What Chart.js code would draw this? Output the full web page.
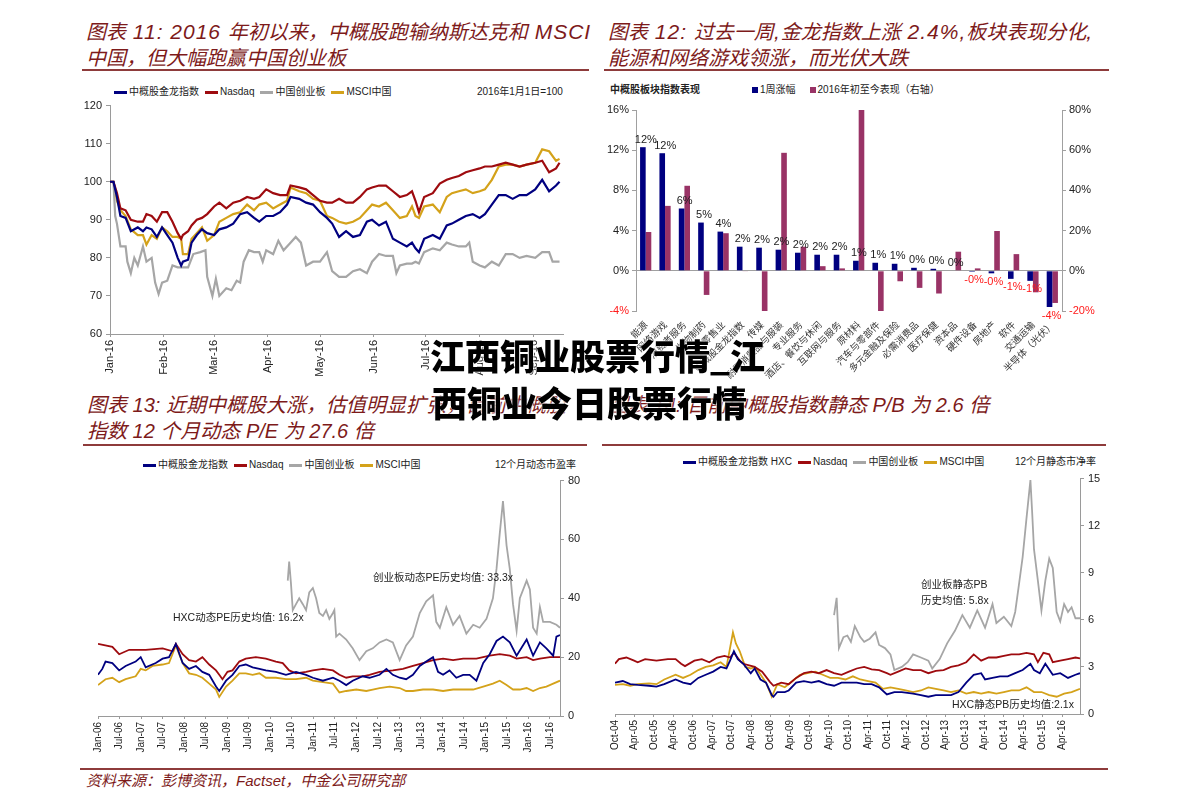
<!DOCTYPE html>
<html><head><meta charset="utf-8">
<script src="https://cdn.jsdelivr.net/npm/chart.js@4.4.1/dist/chart.umd.min.js"></script>
<style>
html,body{margin:0;padding:0;background:#fff;}
body{width:1191px;height:810px;position:relative;overflow:hidden;font-family:"Liberation Sans","Noto Sans CJK SC",sans-serif;}
.hd{position:absolute;font-style:italic;color:#7d1a1a;font-size:20px;line-height:26px;white-space:nowrap;}
.hd .lt{font-size:21px;letter-spacing:1px;}
.rule{position:absolute;height:2px;background:#8e3b3b;}
.lg{position:absolute;font-size:10px;line-height:12px;color:#222;white-space:nowrap;display:flex;align-items:center;}
.lg .l{display:inline-block;width:13px;height:3px;margin-right:2px;}
.lg .t{margin-right:6px;}
.lg .sq{display:inline-block;width:6px;height:6px;margin-right:2px;}
.note{position:absolute;font-size:10.5px;line-height:13px;color:#222;white-space:nowrap;}
canvas{position:absolute;}
.ov{position:absolute;font-family:"Noto Sans CJK SC",sans-serif;font-weight:900;font-size:35px;line-height:44px;color:#000;white-space:nowrap;text-shadow:0 0 2px #fff,0 0 2px #fff;z-index:10;}
</style></head>
<body>
<div class="hd" style="left:86px;top:19px">图表<span class="lt"> 11: 2016 </span>年初以来，中概股跑输纳斯达克和<span class="lt"> MSCI</span><br>中国，但大幅跑赢中国创业板</div>
<div class="rule" style="left:82px;top:69px;width:507px"></div>
<div class="hd" style="left:608px;top:19px">图表<span class="lt"> 12: </span>过去一周<span class="lt">,</span>金龙指数上涨<span class="lt"> 2.4%,</span>板块表现分化<span class="lt">,</span><br>能源和网络游戏领涨，而光伏大跌</div>
<div class="rule" style="left:604px;top:69px;width:505px"></div>
<div class="hd" style="left:87px;top:392px">图表 13: 近期中概股大涨，估值明显扩张，目前中概股<br>指数 12 个月动态 P/E 为 27.6 倍</div>
<div class="hd" style="left:608px;top:392px">图表 14: 目前中概股指数静态 P/B 为 2.6 倍</div>
<div class="rule" style="left:83px;top:444px;width:504px"></div>
<div class="rule" style="left:602px;top:444px;width:504px"></div>
<div class="rule" style="left:80px;top:768px;width:1028px"></div>
<div class="hd" style="left:86px;top:771px;font-size:15px;line-height:20px">资料来源：彭博资讯，Factset，中金公司研究部</div>

<div class="lg" style="left:114px;top:86px"><span class="l" style="background:#000080"></span><span class="t">中概股金龙指数</span><span class="l" style="background:#9e0b0f"></span><span class="t">Nasdaq</span><span class="l" style="background:#a6a6a6"></span><span class="t">中国创业板</span><span class="l" style="background:#d4a21a"></span><span class="t">MSCI中国</span></div>
<div class="lg" style="left:477px;top:86px">2016年1月1日=100</div>

<div class="lg" style="left:610px;top:84px;font-weight:bold">中概股板块指数表现</div>
<div class="lg" style="left:752px;top:84px"><span class="sq" style="background:#000080"></span><span class="t" style="margin-right:14px">1周涨幅</span><span class="sq" style="background:#993366"></span><span class="t">2016年初至今表现（右轴）</span></div>

<div class="lg" style="left:143px;top:459px"><span class="l" style="background:#000080"></span><span class="t">中概股金龙指数</span><span class="l" style="background:#9e0b0f"></span><span class="t">Nasdaq</span><span class="l" style="background:#a6a6a6"></span><span class="t">中国创业板</span><span class="l" style="background:#d4a21a"></span><span class="t">MSCI中国</span></div>
<div class="lg" style="left:495px;top:459px">12个月动态市盈率</div>

<div class="lg" style="left:683px;top:456px"><span class="l" style="background:#000080"></span><span class="t">中概股金龙指数 HXC</span><span class="l" style="background:#9e0b0f"></span><span class="t">Nasdaq</span><span class="l" style="background:#a6a6a6"></span><span class="t">中国创业板</span><span class="l" style="background:#d4a21a"></span><span class="t">MSCI中国</span></div>
<div class="lg" style="left:1015px;top:456px">12个月静态市净率</div>

<canvas id="c1" width="510" height="300" style="left:60px;top:95px;width:510px;height:300px"></canvas>
<canvas id="c2" width="500" height="290" style="left:600px;top:100px;width:500px;height:290px"></canvas>
<canvas id="c3" width="510" height="300" style="left:80px;top:470px;width:510px;height:300px"></canvas>
<canvas id="c4" width="510" height="302" style="left:600px;top:468px;width:510px;height:302px"></canvas>

<div class="note" style="left:373px;top:571px">创业板动态PE历史均值: 33.3x</div>
<div class="note" style="left:173px;top:611px">HXC动态PE历史均值: 16.2x</div>
<div class="note" style="left:921px;top:578px">创业板静态PB</div>
<div class="note" style="left:921px;top:594px">历史均值: 5.8x</div>
<div class="note" style="left:952px;top:698px">HXC静态PB历史均值:2.1x</div>

<div class="ov" style="left:430px;top:333px">江西铜业股票行情_江</div>
<div class="ov" style="left:432px;top:380px">西铜业今日股票行情</div>

<script>
// ---------- Chart 11 data (days since 2016-01-01, index 2016-01-01 = 100) ----------
const monthTicks1 = [0,31,60,91,121,152,182,213,244];
const monthLabels1 = ['Jan-16','Feb-16','Mar-16','Apr-16','May-16','Jun-16','Jul-16','Aug-16','Sep-16'];
const days1 = [0,2,4,6,9,12,16,19,21,24,27,30,33,36,39,41,42,45,47,50,53,56,60,63,67,71,75,79,83,86,90,94,98,102,104,109,113,117,121,125,128,132,136,140,144,148,151,155,159,163,167,171,174,176,178,181,186,190,194,197,201,205,209,213,216,220,224,228,232,236,240,245,249,253,257,259];
const hxc1 = [100,100,96,91,90.5,87,88,87,88,87.5,85.5,88,86,84,80,78,79,79.5,84,86,87.5,86.5,86,87.5,88,89,91.5,92,90.5,89.5,91,91,92,94,96,95.5,94.5,94,92,90.5,89,85.5,87,85.5,86,89.5,90,88.5,89.5,85,84,83,84,82.5,81.5,85,86,85,88.5,89,90,91,91.5,90.5,91.5,94,96.5,96.5,95.5,96.5,96.5,98,100.5,97.5,99,100];
const nasdaq1 = [100,100,97,93,92.5,90,89.5,89.5,91.5,91,89.5,92,92,89.5,86.5,85,86,87,88.5,90,90.5,91.5,93.5,94.5,93,94.5,95,96,95.5,96,98,97,96.5,96.5,99,98.5,98,96.5,95,94.5,94.5,95.5,94.5,94.5,96,98,98.5,99,99,97.5,96,96.5,97.5,95,92,96,97,99.5,100.5,101,101.5,102.5,103,103.5,104,104,104.5,105,104.5,104,104.5,105,105.5,102.5,103.5,105];
const msci1 = [100,100,95,92.5,91,87.5,86,86,83.5,86,85,88,87,85.5,85.5,85,81,81,85,86.5,88,84.5,86,89.5,90.5,91.5,92,94,92.5,94,94.5,93,94,95,98.5,97.5,97,95.5,95,91,90.5,89.5,89,89.5,90.5,92.5,94,93.5,94.5,92.5,90.5,91,93.5,91,90.5,93.5,94,92,96,97,97.5,98,97,97.5,98,100.5,104,104.5,104.5,104,104.5,105,108.5,108,105.5,106];
const chinextDays1 = [0,2,3,4,6,9,10,12,14,16,19,21,24,26,28,30,33,36,39,45,48,52,55,56,59,61,63,67,70,73,75,77,80,83,86,88,90,94,97,100,104,107,110,113,117,121,125,128,132,136,140,144,148,151,155,159,163,165,167,171,174,176,178,181,186,190,194,197,201,205,207,209,213,216,220,224,228,232,236,240,245,249,253,255,259];
const chinext1 = [100,100,91,89,83,83,79,76,80,78,83,79,80,73.5,70.5,73.5,74,78,77.5,77.5,81,81.5,82,75,70,74.5,70,72,71.5,74,73.5,79,82,81.5,81.5,79,82,81,84.5,82,84,85.5,84,78,79,79,81.5,76.5,75,75,76.5,77,76,79,81,80.5,80.5,76,78,78.5,78.5,79,78.5,81.5,82.5,82,84,83.5,83,83,84,79,78,77.5,79,78,81,81,80,80.5,80,81.5,81.5,79,79];

// ---------- Chart 12 data ----------
const sectors2 = ['能源','网络游戏','消费者服务','生物制药','零售业','中概股金龙指数','传媒','耐用消费品与服装','专业服务','酒店、餐饮与休闲','互联网与服务','原材料','汽车与零部件','多元金融及保险','必需消费品','医疗保健','资本品','硬件设备','房地产','软件','交通运输','半导体（光伏）'];
const week2 = [12.3,11.7,6.2,4.8,3.9,2.4,2.3,2.1,1.8,1.6,1.6,1.0,0.8,0.7,0.3,0.2,0.05,-0.1,-0.25,-0.8,-1.0,-3.6];
const ytd2 = [19.3,32.3,42.3,-12,18.7,-0.3,-22,58.7,12,2.3,1.2,81,-21,-5.2,-8.5,-11.3,9.5,1.2,19.8,8.3,-10.7,-16];

// ---------- Chart 13 data (months since Jan-2006, 12m forward P/E) ----------
const tickLabels3 = ['Jan-06','Jul-06','Jan-07','Jul-07','Jan-08','Jul-08','Jan-09','Jul-09','Jan-10','Jul-10','Jan-11','Jul-11','Jan-12','Jul-12','Jan-13','Jul-13','Jan-14','Jul-14','Jan-15','Jul-15','Jan-16','Jul-16'];
const hxcPE = [[0,14],[1.2,16],[2.1,18.5],[4,18],[5.9,15.5],[7.7,17],[10.5,18.5],[11.9,20],[13.3,16.5],[16.1,18],[18,19.5],[19.8,20],[21.7,24.5],[23.6,18],[25.4,16],[27.3,17],[29.1,15],[31,14],[32.9,10],[33.8,8.5],[35.7,12],[37.5,14],[39.4,17],[41.2,17.5],[43.1,16.5],[45,16],[46.8,15.5],[49.6,15],[52.4,14],[55.2,15],[58,14],[59.9,13],[62.7,12],[65.5,13],[67.3,12],[69.2,10.5],[71,12],[73.8,13.5],[75.7,13],[78.5,14],[80.4,16],[82.2,14],[84.1,13],[85.9,12.5],[87.8,14],[89.7,17],[91.5,18.5],[93.4,20],[94.8,15],[96.2,14],[98,15.5],[99.9,13],[101.8,14],[103.6,14],[105.5,12],[107.4,18],[109.2,21],[111.1,25.5],[112.9,27],[114.8,25],[116.7,20.5],[119.5,26],[121.3,20.5],[123.2,25],[125,23],[126.9,20.5],[127.8,27],[128.8,27.5]];
const nasdaqPE = [[0,24.5],[4,23.5],[5.9,21],[8.7,22.5],[13.3,22.5],[18,23],[20.8,22],[21.7,24.5],[23.6,21],[25.4,19],[27.3,18.5],[29.1,20],[31,17.5],[32.9,15.5],[33.8,14],[34.7,12.5],[36.1,15],[37.5,15.5],[39.4,18.5],[41.2,19.5],[44,20],[46.8,19.5],[49.6,18.5],[51.5,18],[53.3,15.5],[55.2,14.5],[58,15],[59.9,15.5],[62.7,16],[65.5,15.5],[67.3,14],[69.2,13],[71,13.5],[73.8,13.5],[75.7,14],[78.5,15],[82.2,15.5],[85,16],[87.8,17],[90.6,18],[93.4,19],[96.2,19.5],[99,19],[101.8,19.5],[105.5,19.5],[109.2,20.5],[112,21],[114.8,20.5],[116.7,19.5],[119.5,20],[121.3,19],[123.2,19.5],[126,20],[128.8,20]];
const chinextPE = [[52.9,46],[53.3,52.5],[53.8,45],[54.3,36],[55.2,38],[56.1,40],[57.1,38],[58,36],[58.9,42],[59.9,43.5],[60.8,40],[61.7,35],[62.7,34],[63.6,36],[64.5,33],[65.5,35],[65.9,36],[66.4,27],[67.3,28],[69.2,26],[71,23],[72.9,19],[74.8,22],[76.6,23],[78.5,25],[80.4,26],[82.2,25],[84.1,19],[85.9,24],[87.8,27],[89.7,35],[91.5,39],[93.4,41],[94.3,32],[95.3,30],[97.1,37],[99,31],[100.8,34],[102.7,28],[104.6,31],[106.4,30],[108.3,33],[110.1,40],[111.1,50],[112,62],[112.9,73],[113.9,58],[114.8,50],[115.7,38],[116.7,29],[117.6,40],[119.5,46],[120.4,43],[121.3,30],[122.3,28],[123.2,37],[124.1,32],[126,32],[127.8,31],[128.8,30]];
const msciPE = [[0,10.5],[2.1,12.5],[4,13],[5.9,11.5],[7.7,12.5],[10.5,13.5],[11.9,16],[13.3,15.5],[15.2,17],[18,17.5],[19.8,18],[21.7,24],[23.6,18],[25.4,14.5],[27.3,14],[29.1,13],[31,11],[32.9,9],[33.8,6.5],[35.7,10],[37.5,12],[39.4,14.5],[41.2,14.5],[43.1,14],[45,14.5],[46.8,13],[49.6,13],[52.4,12.5],[55.2,12.5],[58,13],[59.9,12],[62.7,11.5],[65.5,11],[67.3,8],[69.2,8.5],[72,9],[74.8,8.5],[76.6,9],[78.5,9.5],[81.3,10],[84.1,9.5],[85.9,8.5],[87.8,8.5],[90.6,9],[93.4,9],[96.2,8.5],[99,9],[101.8,9],[104.6,9],[107.4,10],[110.1,11],[112,12],[113.9,10.5],[115.7,9],[117.6,9],[119.5,9.5],[121.3,8.5],[123.2,9.5],[125,10],[126.9,11],[128.8,12]];

// ---------- Chart 14 data (months since Oct-2004, trailing P/B) ----------
const tickLabels4 = ['Oct-04','Apr-05','Oct-05','Apr-06','Oct-06','Apr-07','Oct-07','Apr-08','Oct-08','Apr-09','Oct-09','Apr-10','Oct-10','Apr-11','Oct-11','Apr-12','Oct-12','Apr-13','Oct-13','Apr-14','Oct-14','Apr-15','Oct-15','Apr-16'];
const hxcPB = [[0,2.0],[2.4,2.1],[4.7,1.9],[7,1.85],[10.5,1.8],[12.8,1.75],[15.2,1.9],[18.7,2.2],[21,2.0],[23.3,1.9],[25.7,2.3],[28,2.5],[30.3,2.7],[32.6,3.0],[34.4,2.9],[35.5,3.4],[36.7,4.0],[37.9,3.5],[39.6,3.2],[41.9,2.6],[43.1,2.9],[44.9,2.2],[46.6,2.0],[48.4,1.2],[48.9,1.1],[50.1,1.4],[52.4,1.4],[53.6,1.5],[55.9,2.0],[58.3,2.1],[60.6,2.0],[62.9,2.1],[65.3,1.9],[67.6,1.8],[69.9,2.0],[72.2,2.0],[74.6,2.0],[76.9,1.9],[79.2,1.9],[81.5,1.7],[83.9,1.25],[86.2,1.4],[88.5,1.4],[92,1.3],[94.4,1.2],[96.7,1.1],[99,1.2],[101.4,1.2],[103.7,1.2],[106,1.4],[108.4,2.0],[110.7,2.5],[113,2.6],[114.2,2.2],[116.5,2.3],[118.8,2.4],[121.2,2.4],[123.5,2.6],[125.8,2.8],[128.2,3.2],[129.3,2.8],[131.1,2.6],[132.8,3.2],[135.1,2.5],[137.4,2.6],[139.8,2.3],[142.1,2.5],[143.5,2.6]];
const nasdaqPB = [[0,3.2],[1.2,3.5],[3.5,3.6],[5.9,3.4],[7,3.3],[9.3,3.5],[12.8,3.4],[16.3,3.5],[18.7,3.5],[20.4,3.2],[21.6,3.05],[24.5,3.4],[26.8,3.5],[29.1,3.3],[31.5,3.6],[33.8,3.7],[35.5,3.6],[36.7,3.9],[38.5,3.4],[39.6,3.2],[41.4,3.1],[43.1,3.0],[45.4,2.7],[47.8,2.05],[48.9,1.8],[51.3,2.0],[53.6,1.9],[55.9,2.3],[58.3,2.6],[60.6,2.7],[62.9,2.6],[65.3,2.8],[67.6,2.6],[69.9,2.5],[72.2,2.7],[74.6,2.9],[76.9,3.0],[79.2,2.85],[81.5,2.8],[83.9,2.6],[85,2.5],[87.4,2.7],[89.7,2.9],[92,2.8],[94.4,2.8],[96.7,2.6],[99,2.75],[101.4,2.8],[103.7,3.0],[106,3.1],[108.4,3.3],[110.7,3.8],[113,3.4],[115.3,3.6],[117.7,3.6],[120,3.7],[122.3,3.8],[124.7,3.8],[127,3.9],[129.3,3.8],[130.5,3.3],[132.2,3.9],[134,3.8],[135.1,3.3],[137.4,3.4],[139.8,3.5],[142.1,3.6],[143.5,3.55]];
const chinextPB = [[67.6,6.3],[68.4,7.4],[69.1,4.2],[70.5,4.9],[71.7,5.0],[72.8,4.6],[74,5.6],[75.7,4.9],[76.9,4.6],[78.6,4.8],[80.4,5.2],[81.5,4.4],[83.3,4.2],[85,3.8],[86.2,2.8],[88.5,3.0],[90.3,3.3],[92,3.8],[94.4,3.6],[96.7,3.4],[97.9,2.9],[100.2,3.5],[102.5,4.5],[104.9,5.3],[107.2,6.3],[109.5,5.5],[111.8,6.6],[114.2,5.5],[116.5,7.0],[117.7,5.8],[120,6.2],[122.3,5.6],[123.5,6.5],[124.7,8.3],[125.8,10],[127,12.5],[128.2,14.9],[128.7,13],[129.3,10.5],[130.5,8.5],[131.6,6.6],[132.8,8.5],[134,9.9],[135.1,9.3],[136.3,6.5],[137.4,5.9],[138.6,7.0],[139.8,6.5],[140.9,6.8],[142.1,6.1],[143.5,6.1]];
const msciPB = [[0,1.85],[2.4,1.9],[4.7,1.8],[7,1.9],[10.5,1.95],[12.8,1.9],[15.2,2.2],[18.7,2.5],[21,2.3],[23.3,2.5],[25.7,2.8],[28,3.0],[30.3,3.1],[32.6,3.3],[34.4,3.0],[35.5,4.2],[36.4,5.2],[37.3,4.5],[38.5,4.0],[40.2,3.0],[41.9,2.9],[43.1,3.0],[44.3,2.7],[46.6,2.0],[48.4,1.1],[50.1,1.9],[52.4,1.7],[54.8,2.1],[57.1,2.5],[59.4,2.6],[61.8,2.7],[64.1,2.5],[66.4,2.3],[68.8,2.3],[71.1,2.2],[73.4,2.4],[75.7,2.2],[78.1,2.1],[80.4,2.0],[82.7,1.6],[85,1.7],[87.4,1.6],[89.7,1.5],[92,1.4],[94.4,1.5],[96.7,1.7],[99,1.6],[101.4,1.5],[103.7,1.4],[106,1.5],[108.4,1.3],[110.7,1.4],[113,1.3],[115.3,1.4],[117.7,1.3],[120,1.4],[122.3,1.5],[124.7,1.5],[127,1.7],[129.3,1.4],[131.6,1.4],[134,1.2],[136.3,1.1],[138.6,1.3],[140.9,1.4],[143.5,1.6]];

// ---------- styles ----------
const NAVY='#000080', RED='#9e0b0f', GRAY='#a6a6a6', GOLD='#d4a21a', PURPLE='#993366', AX='#9a9a9a';
Chart.defaults.font.family = '"Liberation Sans","Noto Sans CJK SC",sans-serif';
Chart.defaults.color = '#222';

function xyDS(label, xs, ys, color, w){
  return {label, data: xs.map((x,i)=>({x, y: ys[i]})), borderColor: color, backgroundColor: color, borderWidth: w, pointRadius: 0, fill: false, tension: 0};
}
function pairDS(label, pairs, color, w){
  return {label, data: pairs.map(p=>({x:p[0], y:p[1]})), borderColor: color, backgroundColor: color, borderWidth: w, pointRadius: 0, fill: false, tension: 0};
}
function lineOptions(o){
  return {
    responsive:false, animation:false, devicePixelRatio:1,
    layout:{padding:o.pad},
    plugins:{legend:{display:false}, tooltip:{enabled:false}},
    scales:{
      x:{type:'linear', min:o.xmin, max:o.xmax,
        afterBuildTicks:(ax)=>{ ax.ticks = o.tickVals.map(v=>({value:v})); },
        afterFit:(s)=>{ s.height = o.xH; },
        ticks:{autoSkip:false, minRotation:90, maxRotation:90, font:{size:o.xFont}, color:'#222', padding:3,
          callback:(v)=>{ const i=o.tickVals.indexOf(v); return i>=0 ? o.tickLabels[i] : ''; }},
        grid:{drawOnChartArea:false, tickLength:3, color:AX},
        border:{color:AX}},
      y:{position:o.ypos, min:o.ymin, max:o.ymax,
        afterFit:(s)=>{ s.width = o.yW; },
        ticks:{stepSize:o.step, font:{size:11}, color:'#222', padding:4},
        grid:{drawOnChartArea:false, tickLength:4, color:AX},
        border:{color:AX}}
    }
  };
}

// Chart 11
new Chart(document.getElementById('c1'), {
  type:'line',
  data:{datasets:[
    xyDS('中概股金龙指数', days1, hxc1, NAVY, 2.2),
    xyDS('Nasdaq', days1, nasdaq1, RED, 2.2),
    xyDS('中国创业板', chinextDays1, chinext1, GRAY, 2.2),
    xyDS('MSCI中国', days1, msci1, GOLD, 2.2)
  ]},
  options: lineOptions({pad:{left:0,top:7,right:7,bottom:0}, xmin:0, xmax:261, tickVals:monthTicks1, tickLabels:monthLabels1, xH:61, xFont:11, ypos:'left', ymin:60, ymax:120, step:10, yW:50})
});

// Chart 12
const barLabels = {id:'barLabels', afterDatasetsDraw(chart){
  const ctx = chart.ctx, meta = chart.getDatasetMeta(0);
  ctx.save(); ctx.font = '11px "Liberation Sans"'; ctx.textAlign = 'center';
  meta.data.forEach((bar,i)=>{
    const v = week2[i];
    const t = (v<0?'-':'') + Math.round(Math.abs(v)) + '%';
    if (v >= 0){ ctx.fillStyle='#222'; ctx.textBaseline='bottom'; ctx.fillText(t, bar.x+3, bar.y-2); }
    else { ctx.fillStyle='#ff1a1a'; ctx.textBaseline='top'; ctx.fillText(t, bar.x+2, bar.y+3); }
  });
  ctx.restore();
}};
const pctColor = (c)=> (c.tick && c.tick.value < 0) ? '#ff1a1a' : '#222';
new Chart(document.getElementById('c2'), {
  type:'bar',
  data:{labels:sectors2, datasets:[
    {label:'1周涨幅', data:week2, backgroundColor:NAVY, yAxisID:'y', categoryPercentage:0.58, barPercentage:1, clip:0},
    {label:'2016年初至今表现（右轴）', data:ytd2, backgroundColor:PURPLE, yAxisID:'y1', categoryPercentage:0.58, barPercentage:1, clip:0}
  ]},
  options:{
    responsive:false, animation:false, devicePixelRatio:1,
    layout:{padding:{left:0,top:10,right:0,bottom:0}},
    plugins:{legend:{display:false}, tooltip:{enabled:false}},
    scales:{
      x:{grid:{display:false}, border:{display:false},
        ticks:{autoSkip:false, minRotation:45, maxRotation:45, font:{size:9.5, family:'"Noto Sans CJK SC"'}, color:'#333', padding:0},
        afterFit:(s)=>{ s.height = 79; }},
      y:{position:'left', min:-4, max:16,
        ticks:{stepSize:4, callback:(v)=>v+'%', color:pctColor, font:{size:11}, padding:3},
        grid:{color:(c)=> (c.tick && c.tick.value===0) ? '#a0a0a0' : 'rgba(0,0,0,0)', tickColor:'#a0a0a0', tickLength:4},
        border:{color:'#a0a0a0'},
        afterFit:(s)=>{ s.width = 36; }},
      y1:{position:'right', min:-20, max:80,
        ticks:{stepSize:20, callback:(v)=>v+'%', color:pctColor, font:{size:11}, padding:3},
        grid:{drawOnChartArea:false, tickLength:4, color:'#a0a0a0'},
        border:{color:'#a0a0a0'},
        afterFit:(s)=>{ s.width = 38; }}
    }
  },
  plugins:[barLabels]
});

// Chart 13
new Chart(document.getElementById('c3'), {
  type:'line',
  data:{datasets:[
    pairDS('中概股金龙指数', hxcPE, NAVY, 1.8),
    pairDS('Nasdaq', nasdaqPE, RED, 1.8),
    pairDS('中国创业板', chinextPE, GRAY, 1.8),
    pairDS('MSCI中国', msciPE, GOLD, 1.8)
  ]},
  options: lineOptions({pad:{left:18,top:8,right:0,bottom:0}, xmin:0, xmax:128.8, tickVals:tickLabels3.map((_,i)=>i*6), tickLabels:tickLabels3, xH:54, xFont:10, ypos:'right', ymin:0, ymax:80, step:20, yW:30})
});

// Chart 14
new Chart(document.getElementById('c4'), {
  type:'line',
  data:{datasets:[
    pairDS('中概股金龙指数 HXC', hxcPB, NAVY, 1.8),
    pairDS('Nasdaq', nasdaqPB, RED, 1.8),
    pairDS('中国创业板', chinextPB, GRAY, 1.8),
    pairDS('MSCI中国', msciPB, GOLD, 1.8)
  ]},
  options: lineOptions({pad:{left:15,top:7,right:0,bottom:0}, xmin:0, xmax:143.5, tickVals:tickLabels4.map((_,i)=>i*6), tickLabels:tickLabels4, xH:56, xFont:10, ypos:'right', ymin:0, ymax:15, step:3, yW:30})
});
</script>
</body></html>
